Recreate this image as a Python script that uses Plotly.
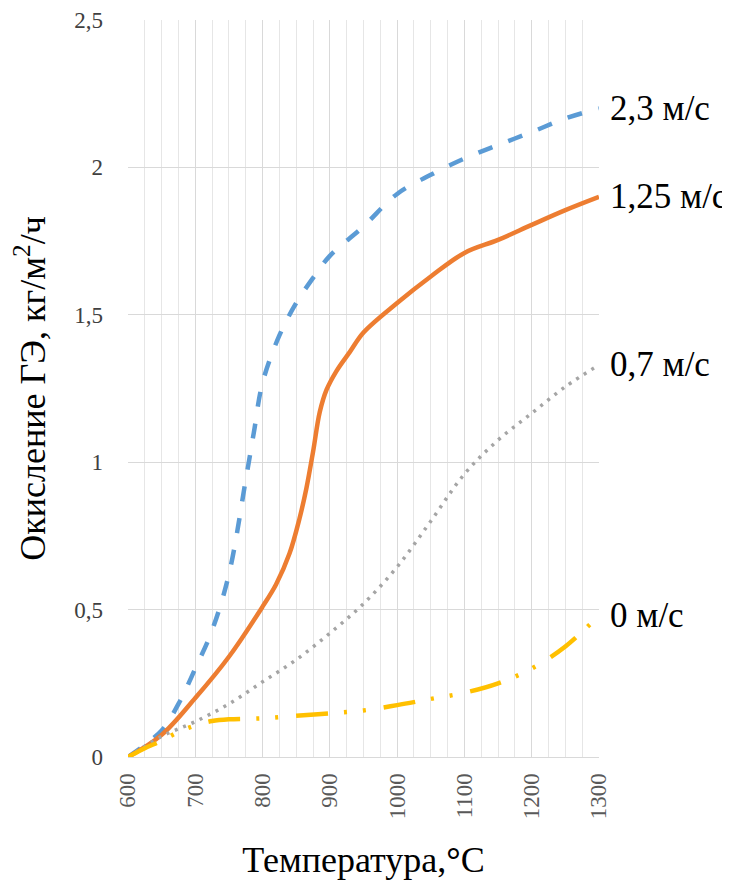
import plotly.graph_objects as go

# ---- data ----
t_23 = [600, 650, 675, 700, 725, 750, 775, 787, 800, 825, 850, 875, 900, 950, 1000, 1050, 1100, 1150, 1200, 1250, 1300]
v_23 = [0, 0.09, 0.18, 0.30, 0.43, 0.62, 0.94, 1.10, 1.27, 1.43, 1.54, 1.625, 1.70, 1.80, 1.91, 1.975, 2.03, 2.076, 2.12, 2.166, 2.20]

t_125 = [600, 650, 700, 750, 800, 820, 840, 855, 865, 875, 885, 895, 910, 930, 950, 1000, 1050, 1100, 1150, 1200, 1250, 1300]
v_125 = [0, 0.075, 0.20, 0.34, 0.51, 0.585, 0.69, 0.81, 0.91, 1.035, 1.17, 1.245, 1.31, 1.375, 1.44, 1.54, 1.63, 1.71, 1.754, 1.805, 1.855, 1.90]

t_07 = [600, 650, 700, 750, 800, 850, 900, 950, 1000, 1050, 1100, 1150, 1200, 1250, 1300]
v_07 = [0, 0.07, 0.12, 0.18, 0.255, 0.33, 0.42, 0.52, 0.645, 0.80, 0.96, 1.075, 1.166, 1.256, 1.33]

t_0 = [600, 625, 650, 675, 700, 725, 750, 800, 850, 900, 950, 1000, 1050, 1100, 1150, 1200, 1250, 1300]
v_0 = [0, 0.03, 0.055, 0.085, 0.107, 0.122, 0.128, 0.131, 0.14, 0.148, 0.158, 0.176, 0.197, 0.218, 0.25, 0.30, 0.375, 0.48]

series_names = ["2,3 м/с", "1,25 м/с", "0,7 м/с", "0 м/с"]

x_tickvals = [600, 700, 800, 900, 1000, 1100, 1200, 1300]
x_ticktext = ["600", "700", "800", "900", "1000", "1100", "1200", "1300"]
y_tickvals = [0, 0.5, 1, 1.5, 2, 2.5]
y_ticktext = ["0", "0,5", "1", "1,5", "2", "2,5"]

FONT = "Liberation Serif"

styles = [
    dict(color="#5B9BD5", width=4.5, dash="15px,17px"),
    dict(color="#ED7D31", width=4.5, dash="solid"),
    dict(color="#A5A5A5", width=3.5, dash="3px,6px"),
    dict(color="#FFC000", width=4.5, dash="32px,16px,3px,16px,3px,18px"),
]

fig = go.Figure()
data = [(t_23, v_23), (t_125, v_125), (t_07, v_07), (t_0, v_0)]
for (tx, vy), name, st in zip(data, series_names, styles):
    fig.add_trace(go.Scatter(
        x=tx, y=vy, mode="lines", name=name,
        line=dict(color=st["color"], width=st["width"], dash=st["dash"],
                  shape="spline", smoothing=1.0),
        showlegend=False, cliponaxis=False,
    ))
    fig.add_annotation(
        x=tx[-1], y=vy[-1], text=name, showarrow=False,
        xanchor="left", yanchor="middle", xshift=9,
        font=dict(family=FONT, size=35, color="#000000"),
    )

# the page body has an 8px margin; compensate so the plot lands where the reference has it
fig.update_layout(
    width=722, height=877,
    margin=dict(l=120, r=131, t=12, b=128),
    paper_bgcolor="white", plot_bgcolor="white",
    font=dict(family=FONT, color="#000000"),
)

fig.update_xaxes(
    range=[600, 1300], automargin=False,
    tickmode="array", tickvals=x_tickvals, ticktext=x_ticktext,
    tickangle=-90, ticks="", ticklabelstandoff=6,
    tickfont=dict(family=FONT, size=23, color="#595959"),
    showgrid=True, gridcolor="#D9D9D9", gridwidth=1,
    minor=dict(dtick=25, showgrid=True, gridcolor="#E6E6E6", gridwidth=1),
    showline=True, linecolor="#D9D9D9", linewidth=1,
    zeroline=False,
    title=dict(text="Температура,<b>°</b>C", font=dict(family=FONT, size=36, color="#000000"), standoff=28),
)
fig.update_yaxes(
    range=[0, 2.5], automargin=False,
    tickmode="array", tickvals=y_tickvals, ticktext=y_ticktext,
    ticks="", ticklabelstandoff=24,
    tickfont=dict(family=FONT, size=23, color="#404040"),
    showgrid=True, gridcolor="#D9D9D9", gridwidth=1,
    zeroline=False, showline=False,
    title=dict(text="Окисление ГЭ, кг/м<sup>2</sup>/ч", font=dict(family=FONT, size=36, color="#000000"), standoff=20),
)

fig.write_html("out.html")
